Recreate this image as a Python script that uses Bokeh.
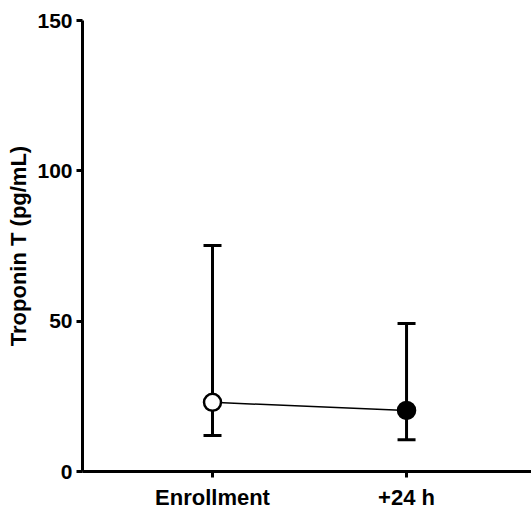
from bokeh.plotting import figure
from bokeh.models import ColumnDataSource, Whisker, FixedTicker, Range1d
from bokeh.embed import file_html
from bokeh.resources import INLINE

categories = ["Enrollment", "+24 h"]
median = [23.0, 20.3]
lower = [12.0, 10.6]
upper = [75.2, 49.2]
fills = ["white", "black"]
y_ticks = [0, 50, 100, 150]

xs = [i + 1 for i in range(len(categories))]

p = figure(width=531, height=512, output_backend="svg", toolbar_location=None,
           x_range=Range1d(0.33, 2.644), y_range=Range1d(0, 150),
           min_border_left=82, min_border_right=0, min_border_top=20, min_border_bottom=41)
p.outline_line_color = None
p.grid.grid_line_color = None
p.background_fill_color = "white"

src = ColumnDataSource(dict(x=xs, y=median, lo=lower, hi=upper, fill=fills))

w = Whisker(source=src, base="x", lower="lo", upper="hi", dimension="height",
            line_width=3, line_color="black")
w.upper_head.size = 18
w.lower_head.size = 18
w.upper_head.line_width = 3
w.lower_head.line_width = 3
p.add_layout(w)

p.line("x", "y", source=src, line_color="black", line_width=1.5)
p.scatter("x", "y", source=src, size=17, fill_color="fill", line_color="black", line_width=2.5)

font = "Liberation Sans"
p.xaxis.ticker = FixedTicker(ticks=xs)
p.xaxis.major_label_overrides = {x: c for x, c in zip(xs, categories)}
p.yaxis.ticker = FixedTicker(ticks=y_ticks)
for ax in (p.xaxis, p.yaxis):
    ax.axis_line_width = 3
    ax.major_tick_line_width = 3
    ax.major_tick_out = 6
    ax.major_tick_in = 0
    ax.minor_tick_line_color = None
    ax.major_label_text_font = font
    ax.major_label_text_font_style = "bold"
    ax.major_label_text_color = "black"
    ax.axis_line_color = "black"
    ax.major_tick_line_color = "black"
p.xaxis.major_label_text_font_size = "22px"
p.yaxis.major_label_text_font_size = "21px"
p.xaxis.major_label_standoff = 7
p.yaxis.major_label_standoff = 4
p.yaxis.axis_label = "Troponin T (pg/mL)"
p.yaxis.axis_label_text_font = font
p.yaxis.axis_label_text_font_style = "bold"
p.yaxis.axis_label_text_font_size = "22px"
p.yaxis.axis_label_text_color = "black"
p.yaxis.axis_label_standoff = 3

open("out.html", "w").write(file_html(p, INLINE))
